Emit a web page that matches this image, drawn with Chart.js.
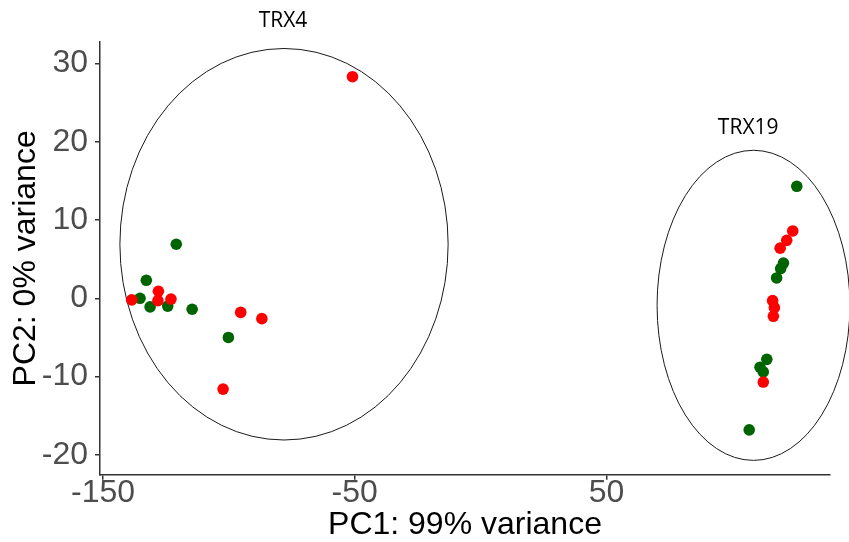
<!DOCTYPE html>
<html>
<head>
<meta charset="utf-8">
<script src="https://cdn.jsdelivr.net/npm/chart.js@4"></script>
<style>
  html, body { margin: 0; padding: 0; background: #fff; }
</style>
</head>
<body>
<canvas id="pca" width="849" height="542"></canvas>
<script>
// PCA scores
const redX = [-138.6, -128.0, -128.2, -123.0, -95.3, -86.9, -102.3, -50.9, 124.0, 121.6, 119.0, 116.0, 116.7, 116.3, 112.3]
const redY = [-0.2, 0.9, -0.3, -0.1, -1.8, -2.6, -11.6, 28.3, 8.6, 7.4, 6.4, -0.3, -1.2, -2.3, -10.7]
const greenX = [-120.9, -132.8, -135.3, -131.3, -124.3, -114.6, -100.2, 125.6, 120.3, 119.2, 117.6, 113.7, 111.0, 112.3, 106.7]
const greenY = [6.9, 2.3, 0.0, -1.1, -1.0, -1.4, -5.0, 14.3, 4.5, 3.8, 2.6, -7.8, -8.8, -9.4, -16.8]

const xTicks = [-150, -50, 50]
const yTicks = [-20, -10, 0, 10, 20, 30]

// hand drawn group ellipses (data units)
const groupNames = ["TRX4", "TRX19"]
const ellipseCx = [-78.1, 108.4]
const ellipseCy = [6.9, -0.9]
const ellipseRx = [65.2, 38.3]
const ellipseRy = [25.0, 19.8]
const labelX = [-78.5, 106.3]
const labelY = [35.4, 21.7]

const zip = (xs, ys) => xs.map((v, i) => ({x: v, y: ys[i]}))

const groupOverlay = {
  id: "groupOverlay",
  beforeDatasetsDraw(chart) {
    const {ctx, scales: {x, y}} = chart
    ctx.save()
    groupNames.forEach((name, i) => {
      const cx = x.getPixelForValue(ellipseCx[i])
      const cy = y.getPixelForValue(ellipseCy[i])
      const rx = Math.abs(x.getPixelForValue(ellipseCx[i] + ellipseRx[i]) - cx)
      const ry = Math.abs(y.getPixelForValue(ellipseCy[i] + ellipseRy[i]) - cy)
      ctx.strokeStyle = "#1a1a1a"
      ctx.lineWidth = 1
      ctx.beginPath()
      ctx.ellipse(cx, cy, rx, ry, 0, 0, Math.PI * 2)
      ctx.stroke()
      ctx.fillStyle = "#000"
      ctx.font = '21px "Open Sans"'
      ctx.textAlign = "center"
      ctx.textBaseline = "middle"
      ctx.fillText(name, x.getPixelForValue(labelX[i]), y.getPixelForValue(labelY[i]))
    })
    ctx.restore()
  }
}

Chart.defaults.font.family = '"Liberation Sans", Arial, sans-serif'

const axisLine = {display: true, color: "#333333", width: 1.5}
const tickMarks = {display: true, drawOnChartArea: false, drawTicks: true, tickLength: 5, color: "#333333", lineWidth: 1.5}

new Chart(document.getElementById("pca").getContext("2d"), {
  type: "scatter",
  data: {
    datasets: [
      {label: "red", data: zip(redX, redY), backgroundColor: "#ff0000", pointRadius: 5.8, borderWidth: 0},
      {label: "green", data: zip(greenX, greenY), backgroundColor: "#006400", pointRadius: 5.8, borderWidth: 0}
    ]
  },
  options: {
    responsive: false,
    animation: false,
    layout: {padding: {left: 10, right: 19, top: 42, bottom: 0}},
    plugins: {legend: {display: false}, tooltip: {enabled: false}},
    scales: {
      x: {
        type: "linear",
        min: -151.2,
        max: 138.8,
        afterBuildTicks: s => { s.ticks = xTicks.map(v => ({value: v})) },
        afterFit: s => { s.height = 67.3 },
        grid: tickMarks,
        border: axisLine,
        ticks: {color: "#4d4d4d", font: {size: 32, lineHeight: 0.8}, padding: 1, maxRotation: 0},
        title: {display: true, text: "PC1: 99% variance", color: "#000", font: {size: 32, lineHeight: 1}, padding: {top: 0, bottom: 1}}
      },
      y: {
        type: "linear",
        min: -22.53,
        max: 32.73,
        afterBuildTicks: s => { s.ticks = yTicks.map(v => ({value: v})) },
        afterFit: s => { s.width = 90 },
        grid: tickMarks,
        border: axisLine,
        ticks: {color: "#4d4d4d", font: {size: 32, lineHeight: 1}, padding: 7},
        title: {display: true, text: "PC2: 0% variance", color: "#000", font: {size: 32, lineHeight: 1}, padding: {top: 0, bottom: 0}}
      }
    }
  },
  plugins: [groupOverlay]
})
</script>
</body>
</html>
